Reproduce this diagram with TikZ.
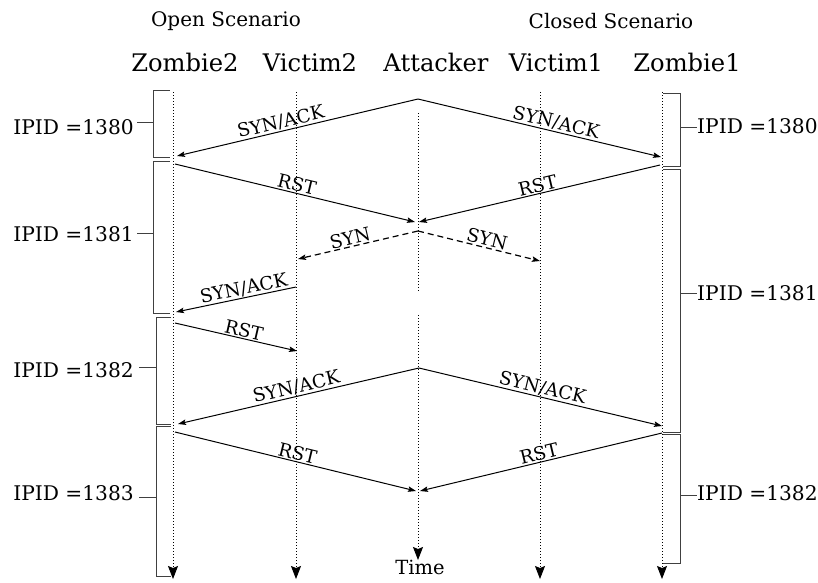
\documentclass[tikz,border=0pt]{standalone}
\usepackage{fontspec}
\setmainfont{DejaVu Serif}
\usetikzlibrary{arrows.meta}
\begin{document}
\begin{tikzpicture}[x=1pt,y=-1pt,
  lifeline/.style={line width=0.9pt, dash pattern=on 0.9pt off 2.1pt,
    -{Stealth[length=13pt,width=10pt,inset=2pt]}},
  plainlife/.style={line width=0.9pt, dash pattern=on 0.9pt off 2.1pt},
  msg/.style={line width=1pt, -{Stealth[length=8pt,width=5.5pt,inset=1.5pt]}},
  dmsg/.style={msg, line width=1.2pt, dash pattern=on 6pt off 4pt},
  lbl/.style={font=\fontsize{18.5}{21}\selectfont, sloped, above, inner sep=1pt},
  brk/.style={line width=0.9pt, black!75},
  ipid/.style={font=\fontsize{20.2}{23}\selectfont, inner sep=0pt},
  col/.style={font=\fontsize{24.2}{27}\selectfont, inner sep=0pt, anchor=base},
  scen/.style={font=\fontsize{20}{23}\selectfont, inner sep=0pt, anchor=base}
]
\useasboundingbox (0,0) rectangle (818,582);

% titles
\node[scen] (open) at (226,26) {Open Scenario};
\node[scen] (closed) at (611,28) {Closed Scenario};
\node[col] (tz2) at (185,71) {Zombie2};
\node[col] (tv2) at (310,71) {Victim2};
\node[col] (ta) at (436,71) {Attacker};
\node[col] (tv1) at (556,71) {Victim1};
\node[col] (tz1) at (687,71) {Zombie1};

% lifelines
\coordinate (z2s) at (173,92);  \coordinate (z2e) at (173,579);
\coordinate (v2s) at (296,92);  \coordinate (v2e) at (296,579);
\coordinate (as)  at (418,113); \coordinate (am) at (418,291);
\coordinate (am2) at (418,315); \coordinate (ae) at (418,560);
\coordinate (v1s) at (540,92);  \coordinate (v1e) at (540,579);
\coordinate (z1s) at (662,92);  \coordinate (z1e) at (662,579);
\draw[lifeline] (z2s) -- (z2e);
\draw[lifeline] (v2s) -- (v2e);
\draw[plainlife] (as) -- (am);
\draw[lifeline] (am2) -- (ae);
\draw[lifeline] (v1s) -- (v1e);
\draw[lifeline] (z1s) -- (z1e);
\node[font=\fontsize{19.5}{22}\selectfont, anchor=base, inner sep=0pt] (time) at (420,574) {Time};

% message points
\coordinate (a1) at (418,99);
\coordinate (z2a) at (177,156);
\coordinate (z1a) at (661,157);
\coordinate (z2b) at (175,164);
\coordinate (z1b) at (660,165);
\coordinate (a2l) at (415,222);
\coordinate (a2r) at (419,222);
\coordinate (a3) at (418,231);
\coordinate (v2a) at (298,259);
\coordinate (v1a) at (540,261);
\coordinate (v2b) at (296,287);
\coordinate (z2c) at (176,312);
\coordinate (z2d) at (175,323);
\coordinate (v2c) at (297,351);
\coordinate (a4) at (419,368);
\coordinate (z2e2) at (178,424);
\coordinate (z1c) at (662,426);
\coordinate (z2f) at (175,432);
\coordinate (z1d) at (662,433);
\coordinate (a5l) at (416,491);
\coordinate (a5r) at (420,491);

\draw[msg] (a1) -- node[lbl, pos=0.56] (l1) {SYN/ACK} (z2a);
\draw[msg] (a1) -- node[lbl, pos=0.56] (l2) {SYN/ACK} (z1a);
\draw[msg] (z2b) -- node[lbl, pos=0.5] (l3) {RST} (a2l);
\draw[msg] (z1b) -- node[lbl, pos=0.5] (l4) {RST} (a2r);
\draw[dmsg] (a3) -- node[lbl, pos=0.55] (l5) {SYN} (v2a);
\draw[dmsg] (a3) -- node[lbl, pos=0.55] (l6) {SYN} (v1a);
\draw[msg] (v2b) -- node[lbl, pos=0.42] (l7) {SYN/ACK} (z2c);
\draw[msg] (z2d) -- node[lbl, pos=0.55] (l8) {RST} (v2c);
\draw[msg] (a4) -- node[lbl, pos=0.5] (l9) {SYN/ACK} (z2e2);
\draw[msg] (a4) -- node[lbl, pos=0.5] (l10) {SYN/ACK} (z1c);
\draw[msg] (z2f) -- node[lbl, pos=0.5] (l11) {RST} (a5l);
\draw[msg] (z1d) -- node[lbl, pos=0.5] (l12) {RST} (a5r);

% left brackets
\draw[brk] (170,90) -- (153,90) -- (153,157) -- (170,157);
\draw[brk] (153,122) -- (137,122);
\node[ipid, anchor=base east] (ip1) at (134,134) {IPID =1380};
\draw[brk] (170,161) -- (153,161) -- (153,313) -- (170,313);
\draw[brk] (153,233) -- (137,233);
\node[ipid, anchor=base east] (ip2) at (134,241) {IPID =1381};
\draw[brk] (171,317) -- (156,317) -- (156,424) -- (171,424);
\draw[brk] (156,367) -- (139,367);
\node[ipid, anchor=base east] (ip3) at (134,377) {IPID =1382};
\draw[brk] (171,426) -- (156,426) -- (156,576) -- (171,576);
\draw[brk] (156,497) -- (139,497);
\node[ipid, anchor=base east] (ip4) at (134,500) {IPID =1383};

% right brackets
\draw[brk] (663,93) -- (680,93) -- (680,166) -- (663,166);
\draw[brk] (680,127) -- (697,127);
\node[ipid, anchor=base west] (ip5) at (697,133) {IPID =1380};
\draw[brk] (663,169) -- (680,169) -- (680,432) -- (663,432);
\draw[brk] (680,293) -- (697,293);
\node[ipid, anchor=base west] (ip6) at (697,300) {IPID =1381};
\draw[brk] (663,434) -- (680,434) -- (680,563) -- (663,563);
\draw[brk] (680,495) -- (697,495);
\node[ipid, anchor=base west] (ip7) at (697,500) {IPID =1382};
\end{tikzpicture}
\end{document}
